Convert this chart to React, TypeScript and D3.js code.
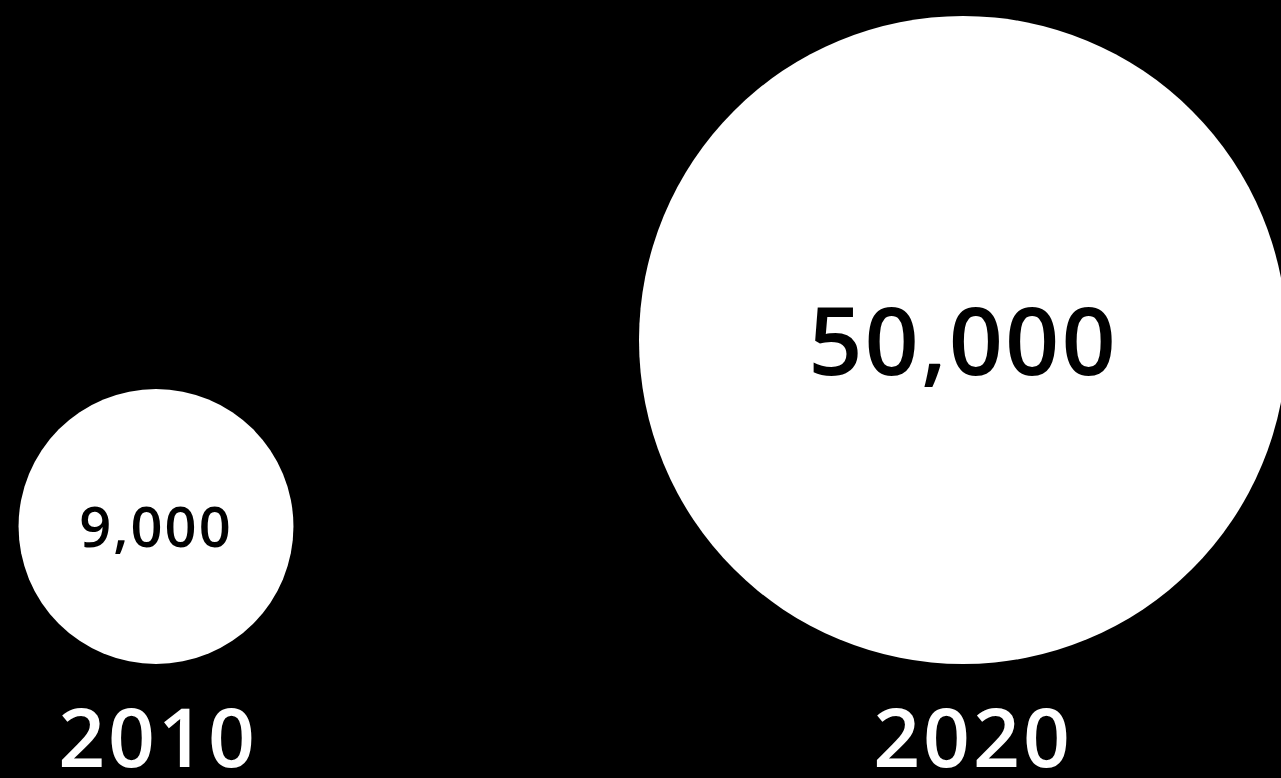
import React, { useEffect, useRef } from 'react';
import * as d3 from 'd3';

// Data
const years = ['2010', '2020'];
const values = [9000, 50000];

const WIDTH = 1281;
const HEIGHT = 778;

const App: React.FC = () => {
  const svgRef = useRef<SVGSVGElement>(null);

  useEffect(() => {
    if (!svgRef.current) return;

    const svg = d3.select(svgRef.current);
    svg.selectAll('*').remove();

    // circle area is proportional to the value
    const r = d3.scaleSqrt().domain([0, d3.max(values) || 1]).range([0, 324]);
    const x = d3.scalePoint<string>().domain(years).range([156, 963]);
    const baseline = 664; // circles sit on a common bottom line

    const data = years.map((year, i) => ({ year, value: values[i] }));

    svg.append('rect')
      .attr('width', WIDTH)
      .attr('height', HEIGHT)
      .attr('fill', '#000');

    const node = svg.selectAll('g.bubble')
      .data(data)
      .join('g')
      .attr('class', 'bubble')
      .attr('transform', d => `translate(${x(d.year)},0)`);

    node.append('circle')
      .attr('cy', d => baseline - r(d.value))
      .attr('r', d => r(d.value))
      .attr('fill', '#fff');

    // value inside the circle, size grows with the circle
    const fontSize = d3.scaleLinear().domain([r(9000), r(50000)]).range([56, 95]);

    node.append('text')
      .text(d => d3.format(',')(d.value))
      .attr('y', d => baseline - r(d.value))
      .attr('dy', d => fontSize(r(d.value)) * 0.37)
      .attr('text-anchor', 'middle')
      .attr('fill', '#000')
      .attr('font-family', '"Open Sans", "Noto Sans", sans-serif')
      .attr('font-weight', 600)
      .attr('font-size', d => `${fontSize(r(d.value))}px`)
      .style('letter-spacing', '2px');

    // year labels under the circles
    node.append('text')
      .text(d => d.year)
      .attr('x', (d, i) => (i === 0 ? 2 : 10))
      .attr('y', 767)
      .attr('text-anchor', 'middle')
      .attr('fill', '#fff')
      .attr('font-family', '"Open Sans", "Noto Sans", sans-serif')
      .attr('font-weight', 600)
      .attr('font-size', '82px')
      .style('letter-spacing', '3px');
  }, []);

  return (
    <div style={{ position: 'fixed', left: 0, top: 0, width: WIDTH, height: HEIGHT, background: '#000', overflow: 'hidden' }}>
      <svg ref={svgRef} width={WIDTH} height={HEIGHT} style={{ display: 'block' }} />
    </div>
  );
};

export default App;
